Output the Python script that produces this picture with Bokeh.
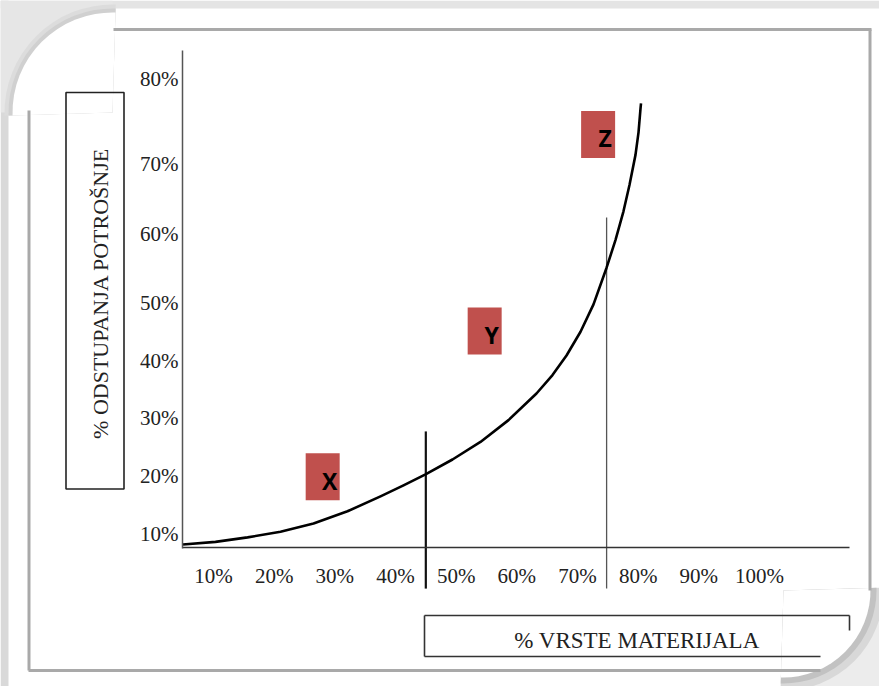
import math
from bokeh.plotting import figure
from bokeh.models import Range1d, LinearAxis, FixedTicker
from bokeh.core.properties import value
from bokeh.embed import file_html
from bokeh.resources import INLINE

# ---------------- data ----------------
x_ticks = [10, 20, 30, 40, 50, 60, 70, 80, 90, 100]
x_tick_labels = ["10%", "20%", "30%", "40%", "50%", "60%", "70%", "80%", "90%", "100%"]

# positions of the y labels on the drawing (the printed scale is not linear)
y_tick_pos = [10.0, 20.0, 30.0, 39.7, 49.7, 61.6, 73.7, 88.3]
y_tick_labels = ["10%", "20%", "30%", "40%", "50%", "60%", "70%", "80%"]

# % of material types vs. deviation of consumption (curve)
curve_x = [4.98, 10.33, 15.61, 21.05, 26.49, 32.09, 37.53, 41.32, 44.95, 49.40,
           54.01, 58.63, 63.24, 65.88, 68.19, 70.50, 72.64, 74.78, 76.26, 77.58,
           78.57, 79.56, 80.06, 80.39, 80.47]
curve_y = [8.10, 8.55, 9.33, 10.29, 11.72, 13.83, 16.40, 18.29, 20.19, 22.76,
           25.79, 29.55, 34.14, 37.31, 40.69, 44.79, 49.50, 55.78, 60.59, 65.55,
           70.10, 75.28, 79.16, 83.28, 84.14]

# class boundaries
boundary_x = [45.0, 74.8]
boundary_top = [27.6, 64.5]
boundary_bottom = [0.5, 0.5]

# class markers
class_labels = ["X", "Y", "Z"]
class_x = [28.0, 54.7, 73.4]
class_y = [19.8, 44.9, 78.8]

x_title = "% VRSTE MATERIJALA"
y_title = "% ODSTUPANJA  POTROŠNJE"

# ---------------- layout helpers (reference pixel -> data units) ----------------
PX0, SX = 152.3, 6.067
PY0, SY = 591.0, 5.8
W, H = 879, 686


def dx(px):
    return (px - PX0) / SX


def dy(py):
    return (PY0 - py) / SY


SERIF = "Liberation Serif"

p = figure(width=W, height=H, output_backend="svg", toolbar_location=None,
           x_range=Range1d(dx(0), dx(W)), y_range=Range1d(dy(H), dy(0)),
           x_axis_type=None, y_axis_type=None, min_border=0,
           outline_line_color=None, background_fill_color="white",
           border_fill_color="white")

# --- page decoration: grey edges, rounded corners with shadow ---
p.quad(left=dx(0), right=dx(W), top=dy(0), bottom=dy(8),
       fill_color="#e4e4e4", line_color=None)
p.quad(left=dx(0), right=dx(8), top=dy(0), bottom=dy(H),
       fill_color="#d9d9d9", line_color=None)

p.quad(left=dx(0), right=dx(112), top=dy(0), bottom=dy(112),
       fill_color="#e6e6e6", line_color=None)
for r, c in [(108, "#dcdcdc"), (104, "#d0d0d0"), (100, "white")]:
    p.wedge(x=dx(112), y=dy(112), radius=r, radius_units="screen",
            start_angle=math.pi / 2 - 0.03, end_angle=math.pi + 0.03,
            fill_color=c, line_color=None)

p.quad(left=dx(783), right=dx(W), top=dy(590), bottom=dy(H),
       fill_color="#ececec", line_color=None)
for r, c in [(100, "#d8d8d8"), (93, "#c2c2c2"), (87, "white")]:
    p.wedge(x=dx(783), y=dy(590), radius=r, radius_units="screen",
            start_angle=-math.pi / 2 - 0.03, end_angle=0.03,
            fill_color=c, line_color=None)

# page frame lines
p.segment(x0=[dx(113), dx(869.5), dx(28.5), dx(28)],
          y0=[dy(29), dy(29), dy(110), dy(670)],
          x1=[dx(871), dx(869.5), dx(28.5), dx(820)],
          y1=[dy(29), dy(590), dy(670), dy(670)],
          line_color="#a9a9a9", line_width=3)

# axis title boxes
p.quad(left=dx(65.5), right=dx(123.5), top=dy(92), bottom=dy(488.5),
       fill_color=None, line_color="#222222", line_width=1.6)
p.segment(x0=[dx(424), dx(424), dx(849), dx(424)],
          y0=[dy(615), dy(615), dy(615), dy(656)],
          x1=[dx(849), dx(424), dx(849), dx(820)],
          y1=[dy(615), dy(656), dy(630), dy(656)],
          line_color="#333333", line_width=1.6)

# --- data marks ---
p.segment(x0=boundary_x, y0=boundary_bottom, x1=boundary_x, y1=boundary_top,
          line_color=["#111111", "#555555"], line_width=[2.2, 1.3])

p.line(curve_x, curve_y, line_color="black", line_width=2.6, line_join="round")

p.rect(class_x, class_y, width=34, height=47, width_units="screen",
       height_units="screen", fill_color="#c0504d", line_color=None)
p.text(class_x, class_y, text=class_labels, x_offset=7, y_offset=4,
       text_align="center", text_baseline="middle",
       text_font=value("Open Sans"), text_font_style="bold",
       text_font_size="23px", text_color="black")

# --- axes ---
yax = LinearAxis(fixed_location=dx(182), bounds=(dy(548), dy(50)),
                 ticker=FixedTicker(ticks=y_tick_pos),
                 major_label_overrides={t: l for t, l in zip(y_tick_pos, y_tick_labels)},
                 axis_line_color="#555555", axis_line_width=1.5,
                 major_tick_line_color=None, minor_tick_line_color=None,
                 major_tick_out=0, major_tick_in=0, major_label_standoff=4,
                 major_label_text_font=SERIF, major_label_text_font_size="21px",
                 major_label_text_color="#222222")
p.add_layout(yax, "left")

xax = LinearAxis(fixed_location=dy(547), bounds=(dx(182), dx(849)),
                 ticker=FixedTicker(ticks=x_ticks),
                 major_label_overrides={t: l for t, l in zip(x_ticks, x_tick_labels)},
                 axis_line_color="#333333", axis_line_width=1.5,
                 major_tick_line_color=None, minor_tick_line_color=None,
                 major_tick_out=0, major_tick_in=0, major_label_standoff=16,
                 major_label_text_font=SERIF, major_label_text_font_size="21px",
                 major_label_text_color="#222222")
p.add_layout(xax, "below")

ytitle = LinearAxis(fixed_location=dx(124), bounds=(dy(488), dy(92)),
                    ticker=FixedTicker(ticks=[]), axis_line_color=None,
                    major_tick_line_color=None, minor_tick_line_color=None,
                    major_tick_out=0, major_tick_in=0,
                    axis_label=y_title, axis_label_standoff=12,
                    axis_label_text_font=SERIF, axis_label_text_font_size="22px",
                    axis_label_text_font_style="normal",
                    axis_label_text_color="#222222")
p.add_layout(ytitle, "left")

xtitle = LinearAxis(fixed_location=dy(615), bounds=(dx(424), dx(849)),
                    ticker=FixedTicker(ticks=[]), axis_line_color=None,
                    major_tick_line_color=None, minor_tick_line_color=None,
                    major_tick_out=0, major_tick_in=0,
                    axis_label=x_title, axis_label_standoff=12,
                    axis_label_text_font=SERIF, axis_label_text_font_size="23px",
                    axis_label_text_font_style="normal",
                    axis_label_text_color="#222222")
p.add_layout(xtitle, "below")

open("out.html", "w").write(file_html(p, INLINE))
